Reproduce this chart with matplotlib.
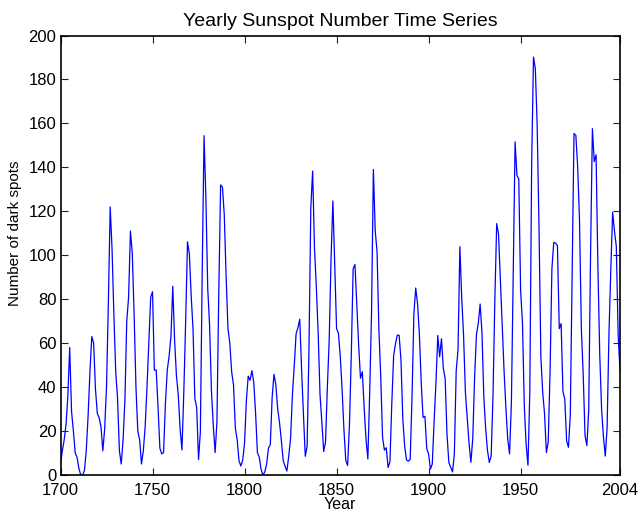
import matplotlib
matplotlib.use("Agg")
import matplotlib.pyplot as plt
import numpy as np

years = list(range(1700, 2005))
spots = [
    5.0, 11.0, 16.0, 23.0, 36.0, 58.0, 29.0, 20.0, 10.0, 8.0,
    3.0, 0.0, 0.0, 2.0, 11.0, 27.0, 47.0, 63.0, 60.0, 39.0,
    28.0, 26.0, 22.0, 11.0, 21.0, 40.0, 78.0, 122.0, 103.0, 73.0,
    47.0, 35.0, 11.0, 5.0, 16.0, 34.0, 70.0, 81.0, 111.0, 101.0,
    73.0, 40.0, 20.0, 16.0, 5.0, 11.0, 22.0, 40.0, 60.0, 80.9,
    83.4, 47.7, 47.8, 30.7, 12.2, 9.6, 10.2, 32.4, 47.6, 54.0,
    62.9, 85.9, 61.2, 45.1, 36.4, 20.9, 11.4, 37.8, 69.8, 106.1,
    100.8, 81.6, 66.5, 34.8, 30.6, 7.0, 19.8, 92.5, 154.4, 125.9,
    84.8, 68.1, 38.5, 22.8, 10.2, 24.1, 82.9, 132.0, 130.9, 118.1,
    89.9, 66.6, 60.0, 46.9, 41.0, 21.3, 16.0, 6.4, 4.1, 6.8,
    14.5, 34.0, 45.0, 43.1, 47.5, 42.2, 28.1, 10.1, 8.1, 2.5,
    0.0, 1.4, 5.0, 12.2, 13.9, 35.4, 45.8, 41.1, 30.1, 23.9,
    15.6, 6.6, 4.0, 1.8, 8.5, 16.6, 36.3, 49.6, 64.2, 67.0,
    70.9, 47.8, 27.5, 8.5, 13.2, 56.9, 121.5, 138.3, 103.2, 85.7,
    64.6, 36.7, 24.2, 10.7, 15.0, 40.1, 61.5, 98.5, 124.7, 96.3,
    66.6, 64.5, 54.1, 39.0, 20.6, 6.7, 4.3, 22.7, 54.8, 93.8,
    95.8, 77.2, 59.1, 44.0, 47.0, 30.5, 16.3, 7.3, 37.6, 74.0,
    139.0, 111.2, 101.6, 66.2, 44.7, 17.0, 11.3, 12.4, 3.4, 6.0,
    32.3, 54.3, 59.7, 63.7, 63.5, 52.2, 25.4, 13.1, 6.8, 6.3,
    7.1, 35.6, 73.0, 85.1, 78.0, 64.0, 41.8, 26.2, 26.7, 12.1,
    9.5, 2.7, 5.0, 24.4, 42.0, 63.5, 53.8, 62.0, 48.5, 43.9,
    18.6, 5.7, 3.6, 1.4, 9.6, 47.4, 57.1, 103.9, 80.6, 63.6,
    37.6, 26.1, 14.2, 5.8, 16.7, 44.3, 63.9, 69.0, 77.8, 64.9,
    35.7, 21.2, 11.1, 5.7, 8.7, 36.1, 79.7, 114.4, 109.6, 88.8,
    67.8, 47.5, 30.6, 16.3, 9.6, 33.2, 92.6, 151.6, 136.3, 134.7,
    83.9, 69.4, 31.5, 13.9, 4.4, 38.0, 141.7, 190.2, 184.8, 159.0,
    112.3, 53.9, 37.6, 27.9, 10.2, 15.1, 47.0, 93.8, 105.9, 105.5,
    104.5, 66.6, 68.9, 38.0, 34.5, 15.5, 12.6, 27.5, 92.5, 155.4,
    154.6, 140.4, 115.9, 66.6, 45.9, 17.9, 13.4, 29.4, 100.2, 157.6,
    142.6, 145.7, 94.3, 54.6, 29.9, 17.5, 8.6, 21.5, 64.3, 93.3,
    119.6, 111.0, 104.0, 63.7, 47.5,
]
xticks = [1700, 1750, 1800, 1850, 1900, 1950, 2004]
yticks = list(range(0, 201, 20))

plt.rcParams['font.family'] = ['Liberation Sans', 'DejaVu Sans']

fig = plt.figure(figsize=(6.4, 5.14), dpi=100)
ax = fig.add_axes([60.5/640, 1 - 475/514, (620 - 60.5)/640, (475 - 35.5)/514])
ax.plot(years, spots, color=(0, 0, 1), linewidth=0.9)
ax.set_xlim(1700, 2004)
ax.set_ylim(0, 200)
ax.set_xticks(xticks)
ax.set_yticks(yticks)
ax.tick_params(direction='in', length=5, width=0.8, top=True, right=True,
               labelsize=12, color='#222222')
ax.tick_params(axis='x', pad=6)
ax.tick_params(axis='y', pad=3)
for s in ax.spines.values():
    s.set_linewidth(1.2)
ax.set_title('Yearly Sunspot Number Time Series', fontsize=14, pad=7)
ax.set_xlabel('Year', fontsize=11.5, labelpad=-1)
ax.set_ylabel('Number of dark spots', fontsize=11)
ax.yaxis.set_label_coords(-0.068, 0.55)

fig.savefig('out.png', dpi=100)
